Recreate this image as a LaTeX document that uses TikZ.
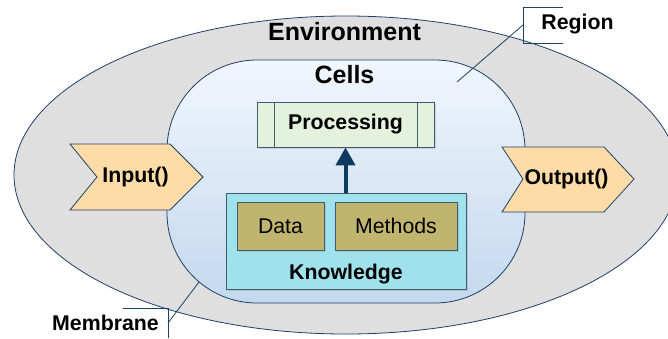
\documentclass[tikz,border=0pt]{standalone}
\usepackage{fontspec}
\setmainfont{Liberation Sans}
\usetikzlibrary{shapes.geometric,arrows.meta,shadows}
\definecolor{edgeblue}{HTML}{1F3F66}
\definecolor{slateline}{HTML}{3F5B70}
\definecolor{envgray}{HTML}{DFDFDF}
\definecolor{celltop}{HTML}{F1F6FC}
\definecolor{cellbot}{HTML}{C3D8EF}
\definecolor{procgreen}{HTML}{E3F1DD}
\definecolor{knowcyan}{HTML}{A0E2EC}
\definecolor{olivebox}{HTML}{BFB56E}
\definecolor{portorange}{HTML}{FDDCA8}
\definecolor{arrownavy}{HTML}{0E3A60}
\tikzset{
  bigtitle/.style={font=\fontsize{25}{29}\selectfont\bfseries},
  boldlabel/.style={font=\fontsize{21.3}{25}\selectfont\bfseries},
  plainlabel/.style={font=\fontsize{21.3}{25}\selectfont},
  softshadow/.style={drop shadow={shadow xshift=1.5pt, shadow yshift=-1.5pt, opacity=0.25}},
  boxline/.style={draw=slateline, line width=0.9pt},
  leader/.style={draw=edgeblue, line width=0.8pt},
  port/.style={draw=edgeblue, line width=0.8pt, fill=portorange},
}
\begin{document}
\begin{tikzpicture}[x=1pt,y=-1pt]
\useasboundingbox (0,0) rectangle (668,338);

% environment
\node (env) [ellipse, draw=edgeblue, line width=0.8pt, fill=envgray,
  minimum width=664, minimum height=318, inner sep=0] at (346,175) {};
\node (envtitle) [bigtitle] at (344.5,32) {Environment};

% cell body
\node (cell) [draw=edgeblue, line width=0.8pt, rounded corners=90pt,
  top color=celltop, bottom color=cellbot,
  minimum width=358, minimum height=243, inner sep=0] at (346,181.5) {};
\node (celltitle) [bigtitle] at (344.5,75) {Cells};

% processing block
\node (proc) [boxline, fill=procgreen, softshadow, minimum width=177, minimum height=45,
  inner sep=0] at (345.5,124.5) {};
\draw[boxline] ([xshift=18]proc.north west) -- ([xshift=18]proc.south west);
\draw[boxline] ([xshift=-17]proc.north east) -- ([xshift=-17]proc.south east);
\node (proctext) [boldlabel] at (345.5,124.5) {Processing};

% knowledge block
\node (know) [boxline, fill=knowcyan, softshadow, minimum width=240, minimum height=96,
  inner sep=0] at (346,241) {};
\node (knowtext) [boldlabel] at (346,274) {Knowledge};
\node (data) [boxline, fill=olivebox, softshadow, minimum width=87, minimum height=48,
  inner sep=0, plainlabel] at (280.5,226) {Data};
\node (methods) [boxline, fill=olivebox, softshadow, minimum width=122, minimum height=48,
  inner sep=0, plainlabel] at (396,226) {Methods};

\draw[arrownavy, line width=4pt, -{Triangle[width=19pt,length=18pt]}]
  (know.north -| proc.south) -- (proc.south);

% input and output ports
\path[port] (70,144) -- (170,144) -- (203,177) -- (170,210) -- (70,210) -- (97,177) -- cycle;
\node (input) [boldlabel] at (135.5,177) {Input()};
\path[port] (502,147) -- (604,147) -- (634,179) -- (604,212) -- (502,212) -- (523,179) -- cycle;
\node (output) [boldlabel] at (566.5,179) {Output()};

% callouts
\node (region) [boldlabel] at (577.5,24) {Region};
\coordinate (regtip) at (457,82);
\draw[leader] (563,7) -- (523,7) -- (523,43) -- (563,43);
\draw[leader] (523,25) -- (regtip);

\node (membrane) [boldlabel] at (105.5,323) {Membrane};
\coordinate (memtip) at (199,282);
\draw[leader] (123,308) -- (168,308) -- (168,338);
\draw[leader] (168,323) -- (memtip);
\end{tikzpicture}
\end{document}
